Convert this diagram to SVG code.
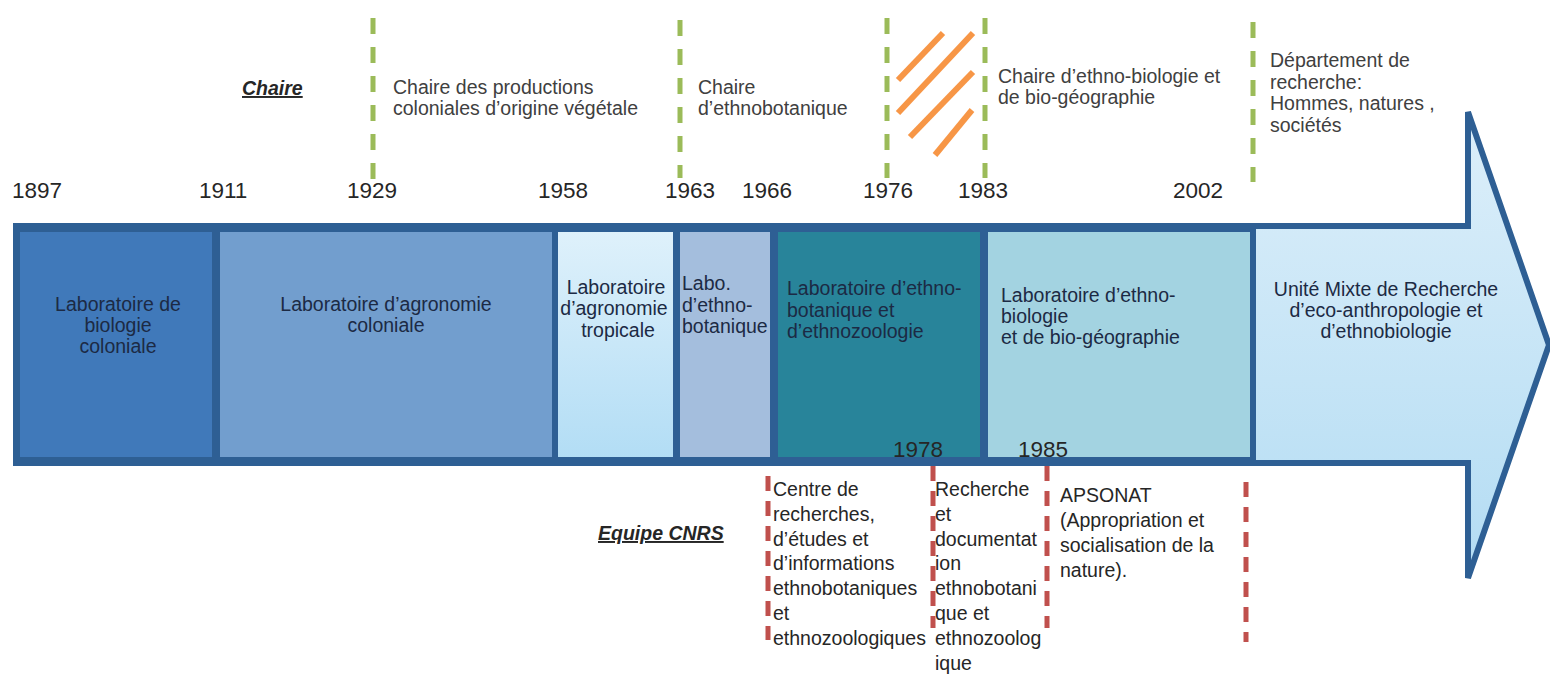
<svg xmlns="http://www.w3.org/2000/svg" width="1550" height="675" viewBox="0 0 1550 675">
  <style>
    text { font-family: "Liberation Sans", Arial, sans-serif; }
    .yr { font-size: 22.5px; fill: #262626; }
    .ch { font-size: 19.5px; fill: #404040; }
    .bx { font-size: 19.5px; fill: #1c2a44; }
    .ti { font-size: 19.5px; font-weight: bold; font-style: italic; fill: #262626; text-decoration: underline; }
    .tx { font-size: 19.5px; fill: #262626; }
    .box { stroke: #2E5F94; stroke-width: 6; }
    .green { stroke: #9BBB59; stroke-width: 5; stroke-dasharray: 16 13; fill: none; }
    .red { stroke: #C0504D; stroke-width: 5; stroke-dasharray: 15 10; fill: none; }
    .orange { stroke: #F79646; stroke-width: 6; fill: none; }
  </style>
  <defs>
    <linearGradient id="gArrow" x1="0" y1="0" x2="0" y2="1">
      <stop offset="0" stop-color="#DDEFFA"/>
      <stop offset="1" stop-color="#B3DCF3"/>
    </linearGradient>
    <linearGradient id="gTrop" x1="0" y1="0" x2="0" y2="1">
      <stop offset="0" stop-color="#DFF1FB"/>
      <stop offset="1" stop-color="#B2DDF5"/>
    </linearGradient>
  </defs>
  <rect width="1550" height="675" fill="#ffffff"/>

  <g id="arrow">
    <polygon points="16,226 1468,226 1468,112 1549,345 1468,578 1468,463 16,463" fill="url(#gArrow)" stroke="#2E5F94" stroke-width="6" stroke-linejoin="miter"/>
  </g>

  <g id="lab-biologie-coloniale">
    <rect class="box" x="17" y="229" width="198" height="231" fill="#4079BA"/>
    <text class="bx" text-anchor="middle" x="118" y="311">Laboratoire de</text>
    <text class="bx" text-anchor="middle" x="118" y="332">biologie</text>
    <text class="bx" text-anchor="middle" x="118" y="353">coloniale</text>
  </g>
  <g id="lab-agronomie-coloniale">
    <rect class="box" x="217" y="229" width="339" height="231" fill="#729ECE"/>
    <text class="bx" text-anchor="middle" x="386" y="311">Laboratoire d’agronomie</text>
    <text class="bx" text-anchor="middle" x="386" y="332">coloniale</text>
  </g>
  <g id="lab-agronomie-tropicale">
    <rect class="box" x="555" y="229" width="121" height="231" fill="url(#gTrop)"/>
    <text class="bx" text-anchor="middle" x="616" y="294">Laboratoire</text>
    <text class="bx" text-anchor="middle" x="614" y="315">d’agronomie</text>
    <text class="bx" text-anchor="middle" x="618" y="337">tropicale</text>
  </g>
  <g id="labo-ethnobotanique">
    <rect class="box" x="677" y="229" width="96" height="231" fill="#A4BEDD"/>
    <text class="bx" x="682" y="290">Labo.</text>
    <text class="bx" x="682" y="312">d’ethno-</text>
    <text class="bx" x="682" y="333">botanique</text>
  </g>
  <g id="lab-ethnobotanique-ethnozoologie">
    <rect class="box" x="775" y="229" width="208" height="231" fill="#28849A"/>
    <text class="bx" x="787" y="295">Laboratoire d’ethno-</text>
    <text class="bx" x="787" y="317">botanique et</text>
    <text class="bx" x="787" y="338">d’ethnozoologie</text>
    <text class="yr" x="893" y="457">1978</text>
  </g>
  <g id="lab-ethnobiologie-biogeographie">
    <rect class="box" x="985" y="229" width="268" height="231" fill="#A3D3E1"/>
    <text class="bx" x="1001" y="302">Laboratoire d’ethno-</text>
    <text class="bx" x="1001" y="323">biologie</text>
    <text class="bx" x="1001" y="344">et de bio-géographie</text>
    <text class="yr" x="1018" y="457">1985</text>
  </g>
  <g id="umr-eco-anthropologie">
    <text class="bx" text-anchor="middle" x="1386" y="296">Unité Mixte de Recherche</text>
    <text class="bx" text-anchor="middle" x="1386" y="317">d’eco-anthropologie et</text>
    <text class="bx" text-anchor="middle" x="1386" y="338">d’ethnobiologie</text>
  </g>

  <g id="years">
    <text class="yr" x="12" y="198">1897</text>
    <text class="yr" x="199" y="198">1911</text>
    <text class="yr" x="347" y="198">1929</text>
    <text class="yr" x="538" y="198">1958</text>
    <text class="yr" x="665" y="198">1963</text>
    <text class="yr" x="742" y="198">1966</text>
    <text class="yr" x="863" y="198">1976</text>
    <text class="yr" x="958" y="198">1983</text>
    <text class="yr" x="1173" y="198">2002</text>
  </g>

  <g id="connectors">
    <line class="green" x1="373" y1="18" x2="373" y2="180"/>
    <line class="green" x1="680" y1="20" x2="680" y2="178"/>
    <line class="green" x1="887" y1="18" x2="887" y2="178"/>
    <line class="green" x1="985" y1="18" x2="985" y2="178"/>
    <line class="green" x1="1253" y1="22" x2="1253" y2="182"/>
    <line class="orange" x1="898" y1="80" x2="943" y2="33"/>
    <line class="orange" x1="898" y1="113" x2="973" y2="33"/>
    <line class="orange" x1="910" y1="137" x2="973" y2="72"/>
    <line class="orange" x1="935" y1="155" x2="972" y2="110"/>
    <line class="red" x1="768" y1="476" x2="768" y2="640"/>
    <line class="red" x1="933" y1="466" x2="933" y2="628"/>
    <line class="red" x1="1047" y1="466" x2="1047" y2="628"/>
    <line class="red" x1="1246" y1="482" x2="1246" y2="642"/>
  </g>

  <g id="chaire-label">
    <text class="ti" x="242" y="95">Chaire</text>
  </g>
  <g id="chaire-productions-coloniales">
    <text class="ch" x="393" y="94">Chaire des productions</text>
    <text class="ch" x="393" y="115">coloniales d’origine végétale</text>
  </g>
  <g id="chaire-ethnobotanique">
    <text class="ch" x="698" y="94">Chaire</text>
    <text class="ch" x="698" y="115">d’ethnobotanique</text>
  </g>
  <g id="chaire-ethnobiologie">
    <text class="ch" x="998" y="83">Chaire d’ethno-biologie et</text>
    <text class="ch" x="998" y="104">de bio-géographie</text>
  </g>
  <g id="departement-hommes-natures-societes">
    <text class="ch" x="1270" y="67">Département de</text>
    <text class="ch" x="1270" y="88.5">recherche:</text>
    <text class="ch" x="1270" y="110">Hommes, natures ,</text>
    <text class="ch" x="1270" y="131.5">sociétés</text>
  </g>

  <g id="equipe-cnrs-label">
    <text class="ti" x="598" y="540">Equipe CNRS</text>
  </g>
  <g id="centre-recherches">
    <text class="tx" x="773" y="496">Centre de</text>
    <text class="tx" x="773" y="520.8">recherches,</text>
    <text class="tx" x="773" y="545.6">d’études et</text>
    <text class="tx" x="773" y="570.4">d’informations</text>
    <text class="tx" x="773" y="595.2">ethnobotaniques</text>
    <text class="tx" x="773" y="620">et</text>
    <text class="tx" x="773" y="644.8">ethnozoologiques</text>
  </g>
  <g id="recherche-documentation">
    <text class="tx" x="935" y="496">Recherche</text>
    <text class="tx" x="935" y="520.8">et</text>
    <text class="tx" x="935" y="545.6">documentat</text>
    <text class="tx" x="935" y="570.4">ion</text>
    <text class="tx" x="935" y="595.2">ethnobotani</text>
    <text class="tx" x="935" y="620">que et</text>
    <text class="tx" x="935" y="644.8">ethnozoolog</text>
    <text class="tx" x="935" y="669.6">ique</text>
  </g>
  <g id="apsonat">
    <text class="tx" x="1060" y="502">APSONAT</text>
    <text class="tx" x="1060" y="527">(Appropriation et</text>
    <text class="tx" x="1060" y="552">socialisation de la</text>
    <text class="tx" x="1060" y="577">nature).</text>
  </g>
</svg>
